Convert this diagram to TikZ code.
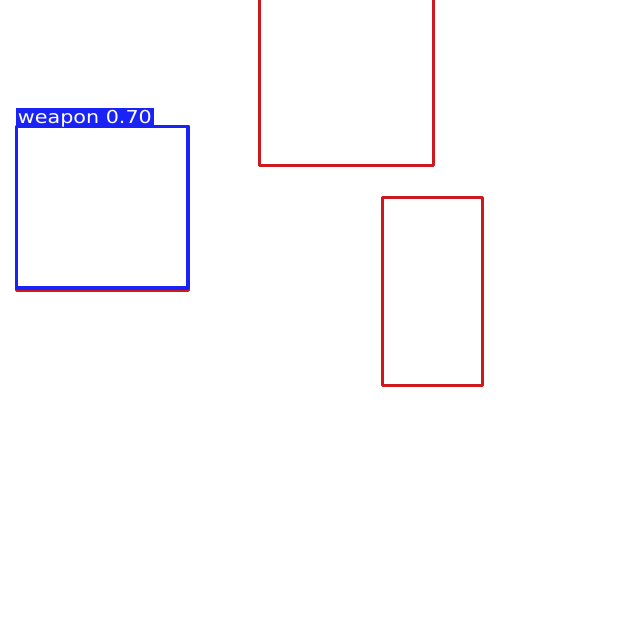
\documentclass[tikz,border=0pt]{standalone}
\usepackage{fontspec}
\setmainfont{DejaVu Sans}
\definecolor{boxred}{RGB}{205,25,30}
\definecolor{boxblue}{RGB}{25,35,245}
\begin{document}
\begin{tikzpicture}[x=0.5pt,y=-0.5pt,
  det/.style={line width=1.6pt,line join=round},
  reddet/.style={det,draw=boxred},
  bluedet/.style={det,draw=boxblue}]
\useasboundingbox (0,0) rectangle (640,640);
\clip (0,0) rectangle (640,640);
\fill[white] (0,0) rectangle (640,640);
% red detections
\draw[reddet] (259.5,-5) rectangle (433.3,165.5);
\draw[reddet] (382.5,197.5) rectangle (482.5,385.5);
\draw[reddet] (16.5,126.5) rectangle (188,290.3);
% blue detection with label
\draw[bluedet] (16.5,126.5) rectangle (188,288);
\fill[boxblue] (15.5,108.5) rectangle (153.5,126.5);
\node[anchor=base west,inner sep=0pt,text=white] (lbl) at (17.5,124)
  {\resizebox{67pt}{6.6pt}{weapon 0.70}};
\end{tikzpicture}
\end{document}
